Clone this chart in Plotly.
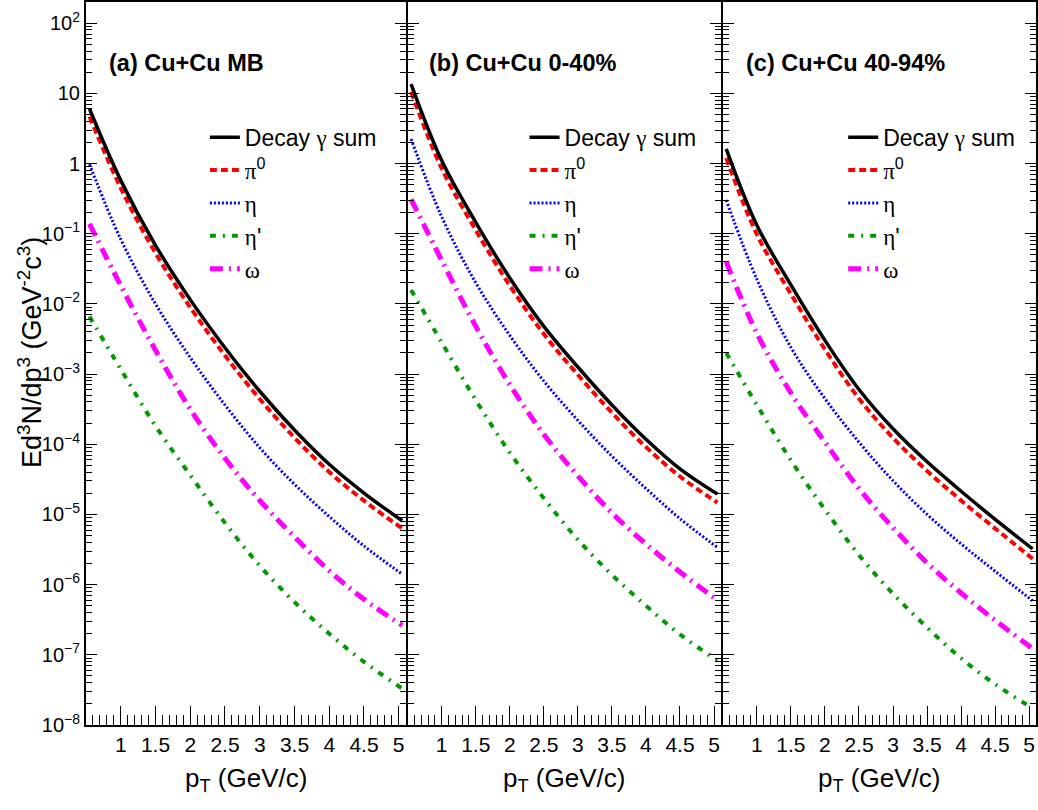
import plotly.graph_objects as go

# transverse momentum grid (GeV/c)
pt = [0.55, 1.0, 1.5, 2.0, 2.5, 3.0, 3.5, 4.0, 4.5, 5.05]

# (a) Cu+Cu MB
mb_sum = [6.03, 0.575, 0.0684, 0.0115, 2.37e-3, 5.69e-4, 1.60e-4, 5.19e-5, 2.02e-5, 8.13e-6]
mb_pi0 = [4.68, 0.447, 0.0531, 8.91e-3, 1.84e-3, 4.42e-4, 1.24e-4, 4.03e-5, 1.57e-5, 6.31e-6]
mb_eta = [0.977, 0.0832, 0.0100, 1.72e-3, 3.63e-4, 8.91e-5, 2.69e-5, 9.33e-6, 3.55e-6, 1.41e-6]
mb_etap = [6.61e-3, 1.17e-3, 1.82e-4, 3.63e-5, 7.59e-6, 1.86e-6, 5.62e-7, 2.00e-7, 7.94e-8, 3.31e-8]
mb_omega = [0.138, 0.0182, 2.19e-3, 3.16e-4, 6.31e-5, 1.58e-5, 4.79e-6, 1.58e-6, 6.17e-7, 2.63e-7]

# (b) Cu+Cu 0-40%
c040_sum = [13.5, 1.10, 0.145, 0.0234, 4.79e-3, 1.26e-3, 3.63e-4, 1.18e-4, 4.47e-5, 1.95e-5]
c040_pi0 = [10.5, 0.851, 0.112, 0.0182, 3.72e-3, 9.77e-4, 2.82e-4, 9.12e-5, 3.47e-5, 1.48e-5]
c040_eta = [2.24, 0.174, 0.0200, 3.55e-3, 7.94e-4, 2.19e-4, 6.76e-5, 2.34e-5, 8.71e-6, 3.39e-6]
c040_etap = [0.0158, 2.82e-3, 4.27e-4, 7.59e-5, 1.70e-5, 4.37e-6, 1.38e-6, 5.01e-7, 1.95e-7, 8.32e-8]
c040_omega = [0.309, 0.0417, 4.79e-3, 7.08e-4, 1.38e-4, 3.55e-5, 1.05e-5, 3.80e-6, 1.51e-6, 6.03e-7]

# (c) Cu+Cu 40-94%
c4094_sum = [1.62, 0.132, 0.0186, 3.02e-3, 6.03e-4, 1.66e-4, 5.62e-5, 2.14e-5, 8.51e-6, 3.24e-6]
c4094_pi0 = [1.20, 0.0977, 0.0138, 2.24e-3, 4.47e-4, 1.23e-4, 4.17e-5, 1.58e-5, 6.31e-6, 2.34e-6]
c4094_eta = [0.302, 0.0224, 2.40e-3, 4.47e-4, 1.07e-4, 3.02e-5, 1.00e-5, 3.80e-6, 1.55e-6, 5.89e-7]
c4094_etap = [2.00e-3, 3.63e-4, 5.89e-5, 1.17e-5, 2.63e-6, 7.41e-7, 2.45e-7, 8.91e-8, 3.80e-8, 1.74e-8]
c4094_omega = [0.0398, 3.80e-3, 5.37e-4, 1.07e-4, 2.34e-5, 6.46e-6, 2.04e-6, 7.59e-7, 3.09e-7, 1.23e-7]

panel_labels = ["<b>(a) Cu+Cu MB</b>", "<b>(b) Cu+Cu 0-40%</b>", "<b>(c) Cu+Cu 40-94%</b>"]
x_tickvals = [0.5, 1, 1.5, 2, 2.5, 3, 3.5, 4, 4.5, 5]
x_ticktext = ["", "1", "1.5", "2", "2.5", "3", "3.5", "4", "4.5", "5"]
y_tickvals = [1e-8, 1e-7, 1e-6, 1e-5, 1e-4, 1e-3, 1e-2, 1e-1, 1, 10, 100]
y_ticktext = ["10<sup>\u22128</sup>", "10<sup>\u22127</sup>", "10<sup>\u22126</sup>", "10<sup>\u22125</sup>",
              "10<sup>\u22124</sup>", "10<sup>\u22123</sup>", "10<sup>\u22122</sup>", "10<sup>\u22121</sup>",
              "1", "10", "10<sup>2</sup>"]

SANS = "Liberation Sans, Arial, Helvetica, sans-serif"
def greek(s):
    return "<span style='font-family:Liberation Serif, Times New Roman, serif'>" + s + "</span>"

names = ["Decay " + greek("\u03b3") + " sum", greek("\u03c0") + "<sup>0</sup>", greek("\u03b7"),
         greek("\u03b7") + "'", greek("\u03c9")]
styles = [
    dict(color="black", width=3.5, dash="solid"),
    dict(color="#ff0000", width=4, dash="7px,4px"),
    dict(color="#0000ff", width=3, dash="2px,2px"),
    dict(color="#009900", width=4, dash="6px,7px,2px,7px"),
    dict(color="#ff00ff", width=5, dash="13px,6px,2px,6px"),
]

panels = [
    [mb_sum, mb_pi0, mb_eta, mb_etap, mb_omega],
    [c040_sum, c040_pi0, c040_eta, c040_etap, c040_omega],
    [c4094_sum, c4094_pi0, c4094_eta, c4094_etap, c4094_omega],
]

W, H = 1038, 810
ml, mr, mt, mb = 86, 1, 0, 85
pw = W - ml - mr
ph = H - mt - mb
dom_px = [(86, 406), (408, 721.5), (723.5, 1037)]
domains = [[(a - ml) / pw, (b - ml) / pw] for a, b in dom_px]

fig = go.Figure()
draw_order = [3, 4, 2, 1, 0]
for p, series in enumerate(panels):
    xa = "x" if p == 0 else "x%d" % (p + 1)
    ya = "y" if p == 0 else "y%d" % (p + 1)
    lg = "legend" if p == 0 else "legend%d" % (p + 1)
    for k in draw_order:
        fig.add_trace(go.Scatter(
            x=pt, y=series[k], mode="lines", name=names[k],
            line=dict(shape="spline", smoothing=1.0, **styles[k]),
            xaxis=xa, yaxis=ya, legend=lg, legendrank=k + 1,
            showlegend=True, hoverinfo="skip",
        ))

minor_x = [round(0.5 + 0.1 * i, 2) for i in range(47)]
minor_x = [v for v in minor_x if abs(v * 2 - round(v * 2)) > 1e-6]
minor_y = []
for e in range(-8, 3):
    for m in range(2, 10):
        v = m * 10.0 ** e
        if v < 200:
            minor_y.append(v)

layout = dict(
    width=W, height=H,
    margin=dict(l=ml, r=mr, t=mt, b=mb),
    paper_bgcolor="white", plot_bgcolor="white",
    font=dict(family=SANS, size=20, color="black"),
    showlegend=True,
)
legend_x_px = [205, 525, 844]
for p in range(3):
    sfx = "" if p == 0 else str(p + 1)
    layout["xaxis" + sfx] = dict(
        domain=domains[p], range=[0.5, 5.1], anchor="y" + sfx,
        showline=True, linecolor="black", linewidth=2, mirror=True,
        ticks="inside", ticklen=19, tickwidth=1.2, tickcolor="black",
        tickmode="array", tickvals=x_tickvals, ticktext=x_ticktext,
        tickfont=dict(size=21), showgrid=False, zeroline=False,
        minor=dict(ticks="inside", ticklen=10, tickwidth=1.2, tickcolor="black",
                   tickmode="array", tickvals=minor_x, showgrid=False),
    )
    layout["yaxis" + sfx] = dict(
        type="log", range=[-8, 2.301], anchor="x" + sfx, domain=[0, 1],
        showline=True, linecolor="black", linewidth=2, mirror="ticks",
        ticks="inside", ticklen=11, tickwidth=1.2, tickcolor="black",
        tickmode="array", tickvals=y_tickvals, ticktext=y_ticktext,
        showticklabels=(p == 0), tickfont=dict(size=20),
        showgrid=False, zeroline=False,
        minor=dict(ticks="inside", ticklen=6, tickwidth=1.2, tickcolor="black",
                   tickmode="array", tickvals=minor_y, showgrid=False),
    )
    layout["legend" + sfx] = dict(
        x=(legend_x_px[p] - ml) / pw, xanchor="left",
        y=(ph - 114) / ph, yanchor="top",
        bgcolor="rgba(0,0,0,0)", borderwidth=0,
        font=dict(family=SANS, size=23, color="black"),
        traceorder="normal", itemwidth=30,
    )
fig.update_layout(**layout)

label_x_px = [107, 427, 745]
annotations = []
for p in range(3):
    annotations.append(dict(
        text=panel_labels[p], xref="paper", yref="paper",
        x=(label_x_px[p] - ml) / pw, y=(ph - 61) / ph,
        xanchor="left", yanchor="middle", showarrow=False,
        font=dict(family=SANS, size=23.5, color="black"),
    ))
    annotations.append(dict(
        text="p<sub>T</sub> (GeV/c)", xref="paper", yref="paper",
        x=(domains[p][0] + domains[p][1]) / 2, y=-(780 - ph) / ph,
        xanchor="center", yanchor="middle", showarrow=False,
        font=dict(family=SANS, size=26, color="black"),
    ))
annotations.append(dict(
    text="Ed<sup>3</sup>N/dp<sup>3</sup> (GeV<sup>-2</sup>c<sup>3</sup>)",
    xref="paper", yref="paper", x=(30 - ml) / pw, y=(ph - 352) / ph,
    xanchor="center", yanchor="middle", textangle=-90, showarrow=False,
    font=dict(family=SANS, size=27, color="black"),
))
fig.update_layout(annotations=annotations)

fig.write_html("out.html", config={"displayModeBar": False},
               post_script="document.body.style.margin='0px';document.body.style.padding='0px';")
